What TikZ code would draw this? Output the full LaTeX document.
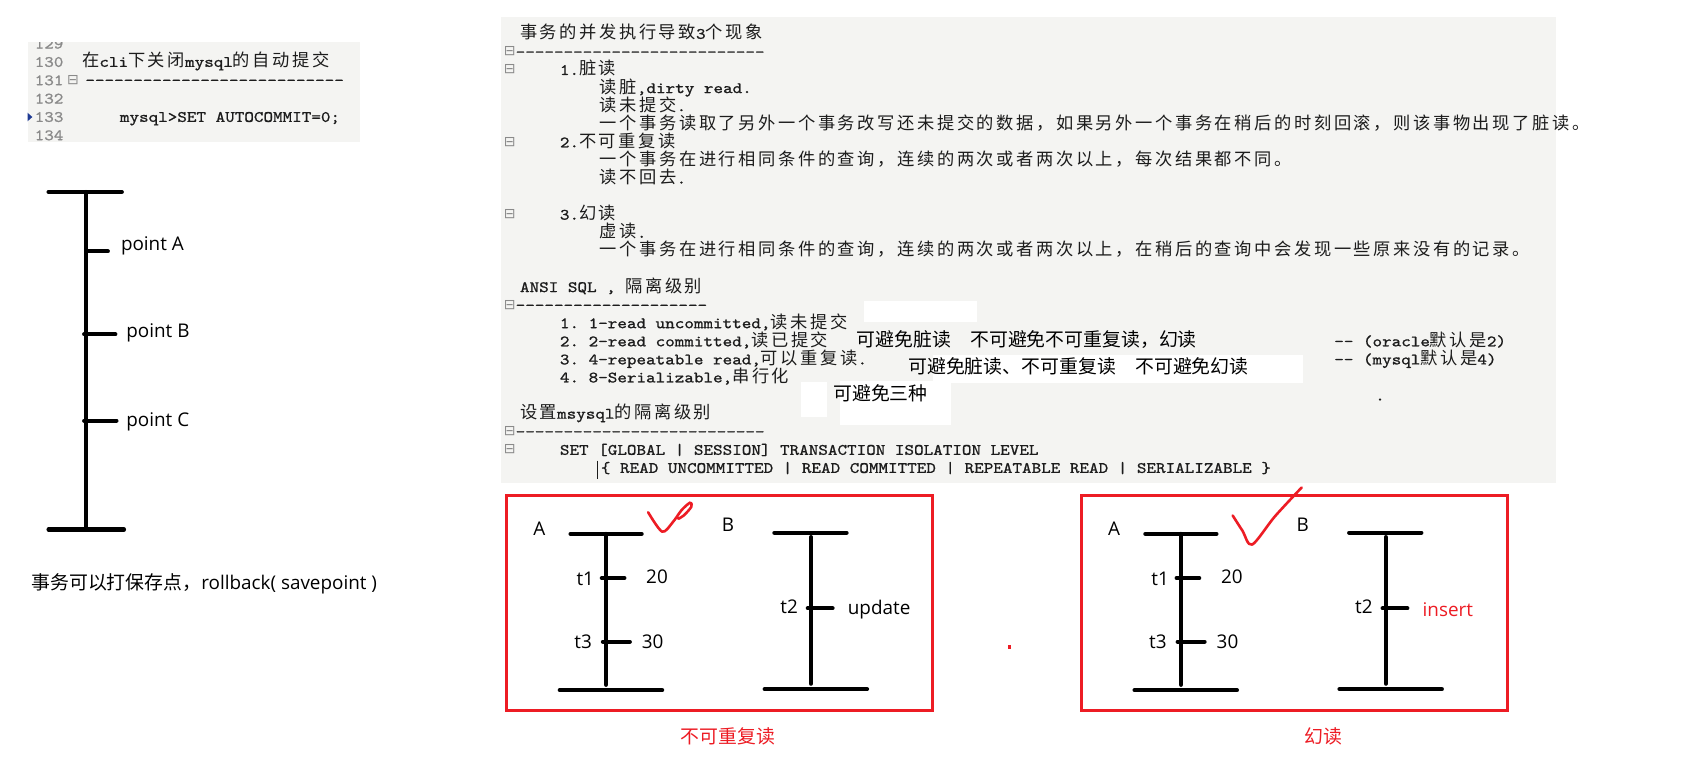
\documentclass[tikz,border=0pt]{standalone}
\usepackage{fontspec}
\setmainfont{Open Sans}
\setmonofont{lmmono10-regular}[Extension=.otf, FakeStretch=1.15, FakeBold=1]
\newfontfamily\cjkface{Noto Sans CJK SC}
\newfontfamily\foldface{DejaVu Sans}
\usetikzlibrary{positioning}

% Chinese characters switch to the CJK face by themselves
\makeatletter
\chardef\cjkclass=20
\def\setcjkrange#1#2{\count@=#1\relax
  \loop\XeTeXcharclass\count@=\cjkclass\relax
  \advance\count@\@ne\ifnum\count@<#2\relax\repeat}
\setcjkrange{"3000}{"3040}
\setcjkrange{"4E00}{"A000}
\setcjkrange{"FF00}{"FF60}
\makeatother
\XeTeXinterchartokenstate=1
\def\latcur{}\def\cjkcur{\cjkface}\def\cjkgap{}
\XeTeXinterchartoks 0 \cjkclass = {\cjkcur}
\XeTeXinterchartoks 4095 \cjkclass = {\cjkcur}
\XeTeXinterchartoks \cjkclass 0 = {\latcur}
\XeTeXinterchartoks \cjkclass 4095 = {\latcur}
\XeTeXinterchartoks \cjkclass \cjkclass = {\cjkgap}

\newcommand\codetext{\def\latcur{\ttfamily\fontsize{14.7}{16}\selectfont}%
  \def\cjkcur{\cjkface\fontsize{16}{16}\selectfont}\def\cjkgap{\kern2.4pt}\latcur}
\newcommand\handtext{\def\latcur{\rmfamily\fontsize{17.5}{20}\selectfont}%
  \def\cjkcur{\cjkface\fontsize{17.5}{20}\selectfont}\def\cjkgap{}\latcur}
\newcommand\foldtext{\foldface\fontsize{13}{13}\selectfont}

\definecolor{paneGray}{HTML}{F4F4F2}
\definecolor{codeInk}{HTML}{1C1C1C}
\definecolor{numGray}{HTML}{8A8A8A}
\definecolor{paintRed}{HTML}{ED1C24}
\definecolor{markBlue}{HTML}{1F3A93}

\begin{document}
\begin{tikzpicture}[x=1pt, y=-1pt,
    code/.style={font=\codetext, text=codeInk, inner sep=0pt, anchor=base west},
    lineno/.style={code, text=numGray, anchor=base east},
    foldbox/.style={font=\foldtext, text=numGray, inner sep=0pt, anchor=west},
    hand/.style={font=\handtext, inner sep=0pt},
    tlbar/.style={line width=3.8pt, line cap=round},
    redframe/.style={draw=paintRed, line width=2.8pt},
    whitepatch/.style={fill=white, draw=none}]
    \fill[white] (0,0) rectangle (1568,721);
    \useasboundingbox (0,0) rectangle (1568,721);

    % Editor snippet, top left
    \fill[paneGray] (26,39) rectangle (334,132);
    \begin{scope}
        \clip (26,39) rectangle (334,132);
        \node[lineno] (n129) at (59,45) {129};
    \end{scope}
    \node[lineno] (n130) at (59,62) {130};
    \node[lineno] (n131) at (59,79) {131};
    \node[lineno] (n132) at (59,96) {132};
    \node[lineno] (n133) at (59,113) {133};
    \node[lineno] (n134) at (59,130) {134};
    \fill[markBlue] (25.5,104.5) -- (30,108.5) -- (25.5,112.5) -- cycle;
    \node[code] (cliOff) at (76,62) {在cli下关闭mysql的自动提交};
    \node[foldbox] (f131) at (62,74) {⊟};
    \node[code] (cliRule) at (79,79) {---------------------------};
    \node[code] (cliSet) at (111,113) {mysql>SET AUTOCOMMIT=0;};

    % Savepoint timeline
    \draw[tlbar] (45,178) -- (113,178);
    \draw[tlbar] (80,178) -- (80,490);
    \draw[tlbar] (45,491) -- (115,491);
    \draw[tlbar] (80,233) -- (100,233);
    \draw[tlbar] (78,310) -- (107,310);
    \draw[tlbar] (78,390) -- (108,390);
    \node[hand, anchor=west] (pA) at (112,228) {point A};
    \node[hand, anchor=west] (pB) at (117,309) {point B};
    \node[hand, anchor=west] (pC) at (117,391) {point C};
    \node[hand, anchor=west] (saveCap) at (29,541) {事务可以打保存点，rollback( savepoint )};

    % Editor notes, top right
    \fill[paneGray] (465,16) rectangle (1443,448);
    \node[code] (r0) at (482,36) {事务的并发执行导致3个现象};
    \node[foldbox] (f1) at (467,47.8) {⊟};
    \node[code] (r1) at (478,52.8) {--------------------------};
    \node[foldbox] (f2) at (467,64.5) {⊟};
    \node[code] (r2) at (519,69.5) {1.脏读};
    \node[code] (r3) at (556,86.3) {读脏,dirty read.};
    \node[code] (r4) at (556,103.1) {读未提交.};
    \node[code] (r5) at (556,119.9) {一个事务读取了另外一个事务改写还未提交的数据，如果另外一个事务在稍后的时刻回滚，则该事物出现了脏读。};
    \node[foldbox] (f6) at (467,131.6) {⊟};
    \node[code] (r6) at (519,136.6) {2.不可重复读};
    \node[code] (r7) at (556,153.4) {一个事务在进行相同条件的查询，连续的两次或者两次以上，每次结果都不同。};
    \node[code] (r8) at (556,170.2) {读不回去.};
    \node[foldbox] (f10) at (467,198.7) {⊟};
    \node[code] (r10) at (519,203.7) {3.幻读};
    \node[code] (r11) at (556,220.5) {虚读.};
    \node[code] (r12) at (556,237.2) {一个事务在进行相同条件的查询，连续的两次或者两次以上，在稍后的查询中会发现一些原来没有的记录。};
    \node[code] (r14) at (482,270.8) {ANSI SQL , 隔离级别};
    \node[foldbox] (f15) at (467,282.6) {⊟};
    \node[code] (r15) at (478,287.6) {--------------------};
    \node[code] (r16) at (519,304.3) {1. 1-read uncommitted,读未提交};
    \node[code] (r17) at (519,321.1) {2. 2-read committed,读已提交};
    \node[code] (r18) at (519,337.9) {3. 4-repeatable read,可以重复读.};
    \node[code] (r19) at (519,354.6) {4. 8-Serializable,串行化};
    \node[code] (oraNote) at (1237,321.1) {-- (oracle默认是2)};
    \node[code] (myNote) at (1237,337.9) {-- (mysql默认是4)};
    \node[code] (strayDot) at (1275,371.4) {.};
    \node[code] (r21) at (482,388.2) {设置msysql的隔离级别};
    \node[foldbox] (f22) at (467,399.9) {⊟};
    \node[code] (r22) at (478,404.9) {--------------------------};
    \node[foldbox] (f23) at (467,416.7) {⊟};
    \node[code] (r23) at (519,421.7) {SET [GLOBAL | SESSION] TRANSACTION ISOLATION LEVEL};
    \node[code] (r24) at (557,438.5) {\{ READ UNCOMMITTED | READ COMMITTED | REPEATABLE READ | SERIALIZABLE \}};
    \draw[codeInk, line width=1.4pt] (554,427) -- (554,444);

    % Pasted notes on white patches
    \fill[whitepatch] (801,279) rectangle (906,299);
    \fill[whitepatch] (865,329) rectangle (1208,355);
    \fill[whitepatch] (743,354) rectangle (767,387);
    \fill[whitepatch] (779,353) rectangle (882,394);
    \node[hand, anchor=west] (ru1) at (794,315) {可避免脏读};
    \node[hand, anchor=west] (ru2) at (899.5,315) {不可避免不可重复读，幻读};
    \node[hand, anchor=west] (rc1) at (842,339.5) {可避免脏读、不可重复读};
    \node[hand, anchor=west] (rc2) at (1052.5,339.5) {不可避免幻读};
    \node[hand, anchor=west] (sz) at (772.5,364.7) {可避免三种};

    % Two read anomalies: A reads twice, B writes in between
    \foreach \i/\dx/\op/\opcol/\cx/\capt in {1/0/update/black/675/不可重复读, 2/533/insert/paintRed/1227/幻读} {
        \draw[redframe] (470+\dx,459) rectangle (865+\dx,659);
        \node[hand] (A\i) at (500+\dx,490) {A};
        \draw[tlbar] (529+\dx,495) -- (595+\dx,495);
        \draw[tlbar] (562+\dx,495) -- (562+\dx,635);
        \draw[tlbar] (519+\dx,640) -- (614+\dx,640);
        \draw[tlbar] (558+\dx,536) -- (579+\dx,536);
        \draw[tlbar] (559+\dx,595) -- (584+\dx,595);
        \node[hand, anchor=east] (t1-\i) at (551+\dx,537) {t1};
        \node[hand, anchor=west] (v20-\i) at (599+\dx,535) {20};
        \node[hand, anchor=east] (t3-\i) at (549+\dx,595) {t3};
        \node[hand, anchor=west] (v30-\i) at (595+\dx,595) {30};
        \node[hand] (B\i) at (675+\dx,487) {B};
        \draw[tlbar] (718+\dx,494) -- (785+\dx,494);
        \draw[tlbar] (752+\dx,498) -- (752+\dx,634);
        \draw[tlbar] (709+\dx,639) -- (804+\dx,639);
        \draw[tlbar] (749+\dx,564) -- (772+\dx,564);
        \node[hand, anchor=east] (t2-\i) at (740+\dx,563) {t2};
        \node[hand, anchor=west, text=\opcol] (op\i) at (786+\dx,565) {\op};
        \node[hand, text=paintRed] (cap\i) at (\cx,683) {\capt};
    }
    % Ticks drawn by hand
    \draw[paintRed, line width=2.4pt, line cap=round, line join=round]
        plot[smooth] coordinates {(601,475) (614,493) (624,484) (632,473) (640,466) (641,470) (634,478) (629,481)};
    \draw[paintRed, line width=2.4pt, line cap=round, line join=round]
        plot[smooth] coordinates {(1143,478) (1152,492) (1161,505) (1182,479) (1207,452)};
    \fill[paintRed] (934.5,598.5) rectangle ++(3,3);
\end{tikzpicture}
\end{document}
